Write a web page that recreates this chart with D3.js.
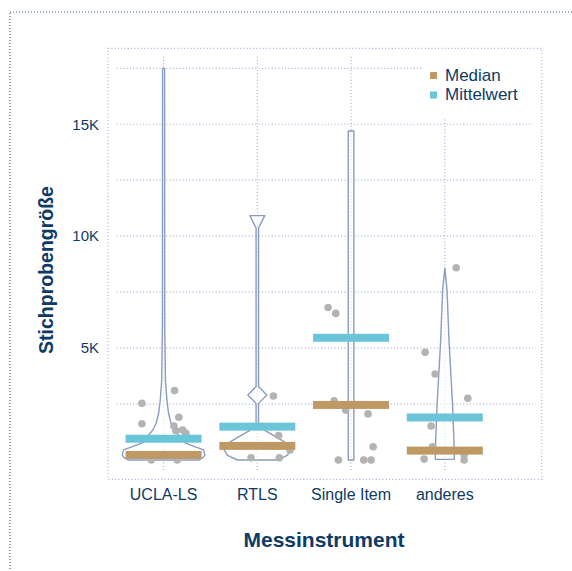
<!DOCTYPE html>
<html>
<head>
<meta charset="utf-8">
<script src="https://cdn.jsdelivr.net/npm/d3@7"></script>
<style>
  html, body { margin: 0; padding: 0; background: #fff; }
  svg { display: block; font-family: "Liberation Sans", Arial, sans-serif; }
</style>
</head>
<body>
<svg id="chart" width="572" height="571"></svg>
<script>
// Sample sizes by measurement instrument
const categories = ["UCLA-LS", "RTLS", "Single Item", "anderes"];
const medians = [225, 630, 2460, 420];
const means = [950, 1490, 5460, 1900];

// Violin outlines: [value, relative density]
const violinUCLA = [[0, 0.85], [80, 0.94], [220, 1.0], [450, 0.97], [590, 0.77], [750, 0.53],
  [930, 0.43], [1120, 0.36], [1340, 0.26], [1640, 0.18], [2090, 0.12], [2680, 0.08],
  [3570, 0.045], [6000, 0.028], [17490, 0.025]];
const violinRTLS = [[0, 0.48], [100, 0.6], [220, 0.73], [450, 0.8], [820, 0.65], [1310, 0.19],
  [1600, 0.03], [2530, 0.03], [2900, 0.23], [3280, 0.03], [10370, 0.03], [10920, 0.18]];
const violinSingle = [[0, 0.068], [14700, 0.068]];
const violinAnderes = [[30, 0.23], [890, 0.22], [2380, 0.19], [3870, 0.145], [5360, 0.10],
  [7600, 0.053], [8570, 0.0]];
const violins = [violinUCLA, violinRTLS, violinSingle, violinAnderes];

// Individual studies: values and horizontal jitter (fraction of category step)
const dotsUCLA = [3100, 2530, 1620, 1910, 1520, 1310, 1340, 1190, 0, 0];
const jitterUCLA = [0.117, -0.231, -0.231, 0.163, 0.110, 0.131, 0.203, 0.238, -0.131, 0.146];
const dotsRTLS = [2860, 1090, 450, 100, 100];
const jitterRTLS = [0.171, 0.227, 0.349, -0.067, 0.235];
const dotsSingle = [6810, 6550, 2640, 2230, 2060, 590, 0, 0, 0];
const jitterSingle = [-0.245, -0.163, -0.181, -0.057, 0.181, 0.235, -0.135, 0.135, 0.213];
const dotsAnderes = [8590, 4810, 3840, 2760, 1520, 590, 40, 220, 0];
const jitterAnderes = [0.121, -0.210, -0.103, 0.245, -0.146, -0.131, -0.221, 0.206, 0.206];
const dotValues = [dotsUCLA, dotsRTLS, dotsSingle, dotsAnderes];
const dotJitter = [jitterUCLA, jitterRTLS, jitterSingle, jitterAnderes];

const gridValues = [2500, 5000, 7500, 10000, 12500, 15000, 17500];
const tickValues = [5000, 10000, 15000];
const tickLabels = ["5K", "10K", "15K"];
const legendLabels = ["Median", "Mittelwert"];

const navy = "#0e3a66";
const gridColor = "#9fb0d6";
const medianColor = "#be9964";
const meanColor = "#6bc5d8";
const dotted = "1,2.3";

const svg = d3.select("#chart");

// Outer dotted frame
svg.append("rect")
  .attr("x", 10).attr("y", 12).attr("width", 575).attr("height", 575)
  .attr("fill", "none").attr("stroke", "#3f6594").attr("stroke-width", 1.2)
  .attr("stroke-dasharray", "1,2");

// Plot frame
svg.append("rect")
  .attr("x", 108).attr("y", 48.3).attr("width", 433.7).attr("height", 431)
  .attr("fill", "none").attr("stroke", gridColor).attr("stroke-width", 1.2)
  .attr("stroke-dasharray", dotted);

const inner = { left: 116.7, right: 533, top: 56.7, bottom: 472.3 };

const x = d3.scaleBand().domain(categories).range([116.7, 491.7]);
const y = d3.scaleLinear().domain([0, 17500]).range([460, 68.3]);
const w = d3.scaleLinear().domain([0, 1]).range([0, 41.3]);
const cx = c => x(c) + x.bandwidth() / 2;

// Grid
const grid = svg.append("g");
grid.selectAll("line.h").data(gridValues).join("line")
  .attr("class", "h")
  .attr("x1", inner.left).attr("x2", inner.right)
  .attr("y1", d => y(d)).attr("y2", d => y(d))
  .attr("stroke", gridColor).attr("stroke-width", 1.2).attr("stroke-dasharray", dotted);
grid.selectAll("line.v").data(categories).join("line")
  .attr("class", "v")
  .attr("x1", d => cx(d)).attr("x2", d => cx(d))
  .attr("y1", inner.top).attr("y2", inner.bottom)
  .attr("stroke", gridColor).attr("stroke-width", 1.2).attr("stroke-dasharray", dotted);

// Y tick labels
const yAxis = d3.axisLeft(y).tickValues(tickValues)
  .tickFormat((d, i) => tickLabels[i]).tickSize(0).tickPadding(0);
const yg = svg.append("g").attr("transform", "translate(99,0)").call(yAxis);
yg.select(".domain").remove();
yg.selectAll("text").attr("fill", navy).attr("font-size", 15)
  .attr("font-family", "'Liberation Sans', Arial, sans-serif");

// X labels
const xAxis = d3.axisBottom(x).tickSize(0).tickPadding(0);
const xg = svg.append("g").attr("transform", "translate(0,489)").call(xAxis);
xg.select(".domain").remove();
xg.selectAll("text").attr("fill", navy).attr("font-size", 16)
  .attr("font-family", "'Liberation Sans', Arial, sans-serif");

// Axis titles
svg.append("text")
  .attr("x", 324).attr("y", 547).attr("text-anchor", "middle")
  .attr("font-size", 21).attr("font-weight", "bold").attr("fill", navy)
  .text("Messinstrument");
svg.append("text")
  .attr("transform", "translate(53,270) rotate(-90)").attr("text-anchor", "middle")
  .attr("font-size", 19.5).attr("font-weight", "bold").attr("fill", navy)
  .text("Stichprobengröße");

// Violins
const area = d3.area()
  .y(d => y(d[0]))
  .curve(d3.curveLinear);
const vg = svg.append("g");
categories.forEach((c, i) => {
  const center = cx(c);
  vg.append("path")
    .datum(violins[i])
    .attr("d", area.x0(d => center - w(d[1])).x1(d => center + w(d[1])))
    .attr("fill", "#ffffff").attr("fill-opacity", 0.6)
    .attr("stroke", "#8a9cc2").attr("stroke-width", 1.4)
    .attr("stroke-linejoin", "round");
});

// Dots
const dg = svg.append("g");
categories.forEach((c, i) => {
  const pts = dotValues[i].map((v, j) => ({ v, j: dotJitter[i][j] }));
  dg.selectAll(null).data(pts).join("circle")
    .attr("cx", d => cx(c) + d.j * x.step())
    .attr("cy", d => y(d.v))
    .attr("r", 3.8)
    .attr("fill", "#b3b3b3");
});

// Median and mean bars
const barW = 76, barH = 8;
const bg = svg.append("g");
bg.selectAll("rect.median").data(categories).join("rect")
  .attr("class", "median")
  .attr("x", d => cx(d) - barW / 2)
  .attr("y", (d, i) => y(medians[i]) - barH / 2)
  .attr("width", barW).attr("height", barH)
  .attr("fill", medianColor);
bg.selectAll("rect.mean").data(categories).join("rect")
  .attr("class", "mean")
  .attr("x", d => cx(d) - barW / 2)
  .attr("y", (d, i) => y(means[i]) - barH / 2)
  .attr("width", barW).attr("height", barH)
  .attr("fill", meanColor);

// Legend
const lg = svg.append("g");
lg.append("rect").attr("x", 422).attr("y", 57).attr("width", 111).attr("height", 61).attr("fill", "#fff");
const legendColors = [medianColor, meanColor];
legendLabels.forEach((t, i) => {
  lg.append("rect").attr("x", 430).attr("y", 72 + i * 19.5).attr("width", 7).attr("height", 7)
    .attr("fill", legendColors[i]);
  lg.append("text").attr("x", 445).attr("y", 80.5 + i * 19.5)
    .attr("font-size", 17).attr("fill", navy).text(t);
});
</script>
</body>
</html>
